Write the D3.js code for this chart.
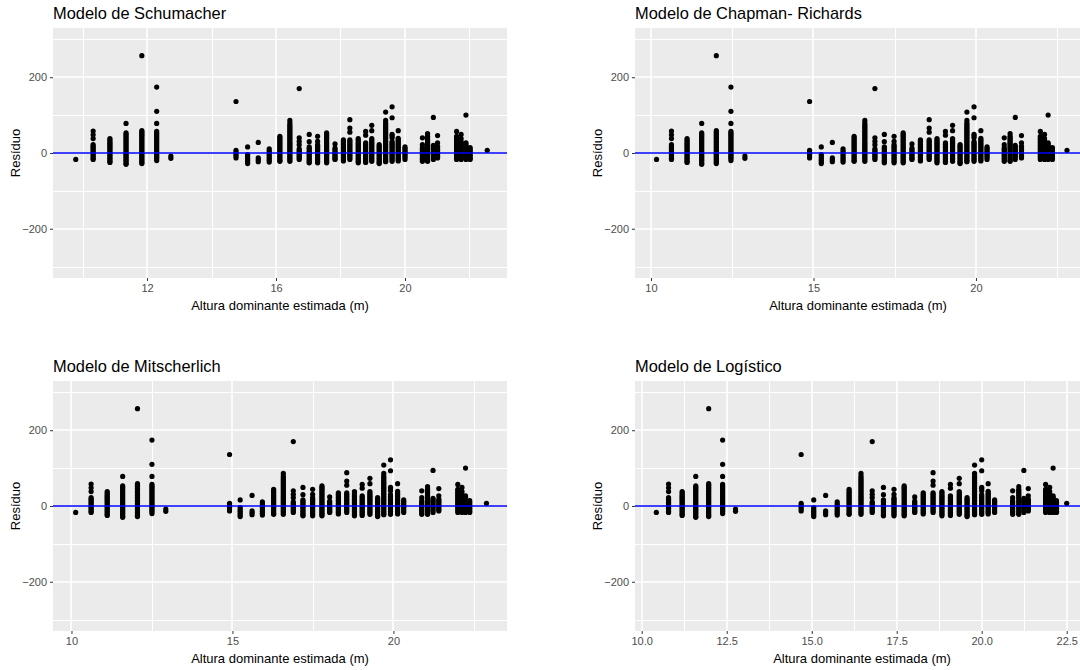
<!DOCTYPE html>
<html>
<head>
<meta charset="utf-8">
<script src="https://cdn.jsdelivr.net/npm/d3@7"></script>
<style>
  html, body { margin: 0; padding: 0; background: #fff; }
  svg { display: block; font-family: "Liberation Sans", Arial, sans-serif; }
</style>
</head>
<body>
<svg id="chart" width="1080" height="670"></svg>
<script>
// ---------- DATA ----------
const panelTitles = ["Modelo de Schumacher", "Modelo de Chapman- Richards", "Modelo de Mitscherlich", "Modelo de Logístico"];
const xTitle = "Altura dominante estimada (m)";
const yTitle = "Resíduo";

// residuals of each vertical group of observations (shared by the four models)
const residuals = [
  [-17],
  [58, 48, 38, 22, 18, 14, 10, 6, 2, -2, -6, -10, -14, -17],
  [38, 34, 30, 26, 22, 18, 14, 10, 6, 2, -2, -6, -10, -14, -18, -22, -25],
  [78, 53, 49, 45, 41, 37, 33, 29, 25, 21, 17, 13, 9, 5, 1, -3, -7, -11, -15, -19, -23, -27, -30],
  [257, 59, 55, 51, 47, 43, 39, 35, 31, 27, 23, 19, 15, 11, 7, 3, -1, -5, -9, -13, -17, -21, -25, -28],
  [174, 110, 78, 57, 53, 49, 45, 41, 37, 33, 29, 25, 21, 17, 13, 9, 5, 1, -3, -7, -11, -15, -20],
  [-8, -14],
  [136, 7, 2, -3, -8, -13],
  [16, -4, -9, -14, -19, -24, -28],
  [28, -13, -18, -23],
  [11, 6, 1, -4, -9, -14, -19, -24],
  [44, 40, 36, 32, 28, 24, 20, 16, 12, 8, 4, 0, -4, -8, -12, -16, -20, -22],
  [86, 79, 74, 70, 66, 62, 58, 54, 50, 46, 42, 38, 34, 30, 26, 22, 18, 14, 10, 6, 2, -2, -6, -10, -14, -18, -22],
  [170, 40, 31, 22, 11, 7, 3, -1, -5, -9, -13, -17],
  [49, 30, 16, 12, 8, 4, 0, -4, -8, -12, -16, -20, -24, -26],
  [44, 31, 22, 18, 14, 10, 6, 2, -2, -6, -10, -14, -18, -22, -26],
  [53, 49, 45, 41, 37, 33, 29, 25, 21, 17, 13, 9, 5, 1, -3, -7, -11, -15, -19, -23, -26],
  [24, 13, 9, 5, 1, -3, -7, -11, -15, -17],
  [35, 31, 27, 23, 19, 15, 11, 7, 3, -1, -5, -9, -13, -17, -21],
  [88, 66, 55, 35, 31, 27, 23, 19, 15, 11, 7, 3, -1, -5, -9, -13, -17],
  [38, 34, 30, 26, 22, 18, 14, 10, 6, 2, -2, -6, -10, -14, -18, -22, -26],
  [57, 47, 27, 23, 19, 15, 11, 7, 3, -1, -5, -9, -13, -17, -21, -25],
  [73, 59, 38, 34, 30, 26, 22, 18, 14, 10, 6, 2, -2, -6, -10, -14, -18, -22],
  [22, 18, 14, 10, 6, 2, -2, -6, -10, -14, -18, -22, -26, -28],
  [108, 86, 79, 75, 71, 67, 63, 59, 55, 51, 47, 43, 39, 35, 31, 27, 23, 19, 15, 11, 7, 3, -1, -5, -9, -13, -17, -21, -23],
  [122, 93, 49, 45, 40, 30, 26, 22, 18, 14, 10, 6, 2, -2, -6, -10, -14, -18, -22],
  [59, 39, 35, 31, 27, 23, 19, 15, 11, 7, 3, -1, -5, -9, -13, -17, -21],
  [16, 12, 8, 4, 0, -4, -8, -12, -17],
  [40, 22, 14, 10, 6, 2, -2, -6, -10, -14, -18, -22],
  [51, 44, 40, 36, 32, 28, 24, 20, 16, 12, 8, 4, 0, -4, -8, -12, -16, -20, -22],
  [94, 20, 16, 12, 8, 4, 0, -4, -8, -12, -17],
  [46, 27, 18, 14, 10, 6, 2, -2, -6, -10, -13],
  [57, 44, 40, 36, 32, 28, 24, 20, 16, 12, 8, 4, 0, -4, -8, -12, -17],
  [49, 38, 30, 26, 22, 18, 14, 10, 6, 2, -2, -6, -10, -14, -17],
  [100, 27, 23, 19, 15, 11, 7, 3, -1, -5, -9, -13, -17],
  [14, 10, 6, 2, -2, -6, -10, -14, -17],
  [7]
];

// estimated dominant height of each group, per model
const xSchumacher   = [9.79, 10.33, 10.85, 11.35, 11.84, 12.30, 12.74, 14.76, 15.12, 15.45, 15.79, 16.12, 16.43, 16.72, 17.03, 17.29, 17.57, 17.83, 18.09, 18.29, 18.55, 18.78, 18.97, 19.20, 19.40, 19.60, 19.79, 20.00, 20.54, 20.70, 20.88, 21.01, 21.60, 21.74, 21.89, 22.02, 22.55];
const xChapman      = [10.17, 10.63, 11.11, 11.56, 12.01, 12.46, 12.89, 14.88, 15.24, 15.58, 15.91, 16.25, 16.58, 16.89, 17.18, 17.48, 17.76, 18.03, 18.29, 18.56, 18.80, 19.06, 19.28, 19.51, 19.72, 19.94, 20.15, 20.34, 20.87, 21.05, 21.21, 21.40, 21.98, 22.11, 22.22, 22.35, 22.80];
const xMitscherlich = [10.13, 10.61, 11.11, 11.59, 12.05, 12.50, 12.93, 14.91, 15.24, 15.61, 15.93, 16.28, 16.58, 16.89, 17.19, 17.49, 17.78, 18.02, 18.29, 18.55, 18.79, 19.03, 19.27, 19.51, 19.70, 19.91, 20.13, 20.32, 20.88, 21.06, 21.23, 21.41, 22.00, 22.13, 22.24, 22.37, 22.89];
const xLogistico    = [10.43, 10.79, 11.19, 11.59, 11.97, 12.38, 12.76, 14.69, 15.06, 15.41, 15.75, 16.10, 16.45, 16.78, 17.11, 17.42, 17.72, 18.03, 18.28, 18.57, 18.83, 19.08, 19.34, 19.57, 19.79, 20.00, 20.19, 20.38, 20.91, 21.09, 21.24, 21.37, 21.88, 22.00, 22.10, 22.20, 22.50];

// axis breaks
const yMajor = [-200, 0, 200];
const yMinor = [-300, -100, 100, 300];
const xMajorSchumacher = [12, 16, 20];
const xMinorSchumacher = [10, 14, 18, 22];
const xMajorFive = [10, 15, 20, 25];
const xMinorFive = [12.5, 17.5, 22.5];
const xMajorLog = [10, 12.5, 15, 17.5, 20, 22.5];
const xMinorLog = [11.25, 13.75, 16.25, 18.75, 21.25, 23.75];
const yDomain = [-330, 330];

// ---------- LAYOUT ----------
const panels = [
  { title: panelTitles[0], xs: xSchumacher,   majors: xMajorSchumacher, minors: xMinorSchumacher, fmt: d3.format("d"),   l: 53,  r: 507,  t: 28,  b: 278, xdom: [9.085, 23.163], xt: 280 },
  { title: panelTitles[1], xs: xChapman,      majors: xMajorFive,       minors: xMinorFive,       fmt: d3.format("d"),   l: 635, r: 1095, t: 28,  b: 278, xdom: [9.508, 23.662], xt: 858 },
  { title: panelTitles[2], xs: xMitscherlich, majors: xMajorFive,       minors: xMinorFive,       fmt: d3.format("d"),   l: 53,  r: 507,  t: 381, b: 631, xdom: [9.426, 23.528], xt: 280 },
  { title: panelTitles[3], xs: xLogistico,    majors: xMajorLog,        minors: xMinorLog,        fmt: d3.format(".1f"), l: 635, r: 1095, t: 381, b: 631, xdom: [9.803, 23.332], xt: 862 }
];

const svg = d3.select("#chart");

panels.forEach((p, i) => {
  const g = svg.append("g");
  const x = d3.scaleLinear().domain(p.xdom).range([p.l, p.r]);
  const y = d3.scaleLinear().domain(yDomain).range([p.b, p.t]);
  const inX = v => v >= p.xdom[0] && v <= p.xdom[1] && x(v) <= 1080;

  const clipId = "clip" + i;
  svg.append("clipPath").attr("id", clipId)
    .append("rect").attr("x", p.l).attr("y", p.t).attr("width", p.r - p.l).attr("height", p.b - p.t);

  // background
  g.append("rect").attr("x", p.l).attr("y", p.t).attr("width", p.r - p.l).attr("height", p.b - p.t)
    .attr("fill", "#EBEBEB");

  const grid = g.append("g").attr("clip-path", `url(#${clipId})`);
  // minor grid
  grid.selectAll("line.ymin").data(yMinor).join("line").attr("class", "ymin")
    .attr("x1", p.l).attr("x2", p.r).attr("y1", d => Math.round(y(d)) + 0.5).attr("y2", d => Math.round(y(d)) + 0.5)
    .attr("stroke", "#FFFFFF").attr("stroke-width", 1);
  grid.selectAll("line.xmin").data(p.minors.filter(inX)).join("line").attr("class", "xmin")
    .attr("y1", p.t).attr("y2", p.b).attr("x1", d => Math.round(x(d)) + 0.5).attr("x2", d => Math.round(x(d)) + 0.5)
    .attr("stroke", "#FFFFFF").attr("stroke-width", 1);
  // major grid
  grid.selectAll("line.ymaj").data(yMajor).join("line").attr("class", "ymaj")
    .attr("x1", p.l).attr("x2", p.r).attr("y1", d => Math.round(y(d))).attr("y2", d => Math.round(y(d)))
    .attr("stroke", "#FFFFFF").attr("stroke-width", 1.6);
  grid.selectAll("line.xmaj").data(p.majors.filter(inX)).join("line").attr("class", "xmaj")
    .attr("y1", p.t).attr("y2", p.b).attr("x1", d => Math.round(x(d))).attr("x2", d => Math.round(x(d)))
    .attr("stroke", "#FFFFFF").attr("stroke-width", 1.6);

  // points
  const pts = [];
  residuals.forEach((col, j) => col.forEach(v => pts.push({ x: p.xs[j], y: v })));
  const pg = g.append("g").attr("clip-path", `url(#${clipId})`);
  pg.selectAll("circle").data(pts).join("circle")
    .attr("cx", d => x(d.x)).attr("cy", d => y(d.y)).attr("r", 2.6).attr("fill", "#000");

  // zero line
  pg.append("line").attr("x1", p.l).attr("x2", p.r).attr("y1", Math.round(y(0))).attr("y2", Math.round(y(0)))
    .attr("stroke", "#0000FF").attr("stroke-width", 1.5);

  // axes
  const ax = g.append("g").attr("transform", `translate(0,${p.b})`)
    .call(d3.axisBottom(x).tickValues(p.majors.filter(inX)).tickSize(3).tickPadding(3).tickFormat(p.fmt));
  const ay = g.append("g").attr("transform", `translate(${p.l},0)`)
    .call(d3.axisLeft(y).tickValues(yMajor).tickSize(3).tickPadding(3).tickFormat(d3.format("d")));
  [ax, ay].forEach(a => {
    a.select(".domain").remove();
    a.selectAll(".tick line").attr("stroke", "#333").attr("stroke-width", 1);
    a.selectAll(".tick text").attr("fill", "#4D4D4D").style("font-size", "11px")
      .style("font-family", "'Liberation Sans', Arial, sans-serif");
  });

  // titles
  g.append("text").attr("x", p.l).attr("y", p.t - 9)
    .attr("fill", "#000").style("font-size", "16.4px").text(p.title);
  g.append("text").attr("x", p.xt)
    .attr("y", p.b + 31.5).attr("text-anchor", "middle")
    .attr("fill", "#000").style("font-size", "13px").text(xTitle);
  g.append("text")
    .attr("transform", `translate(${p.l - 33},${(p.t + p.b) / 2}) rotate(-90)`)
    .attr("text-anchor", "middle").attr("fill", "#000").style("font-size", "13px").text(yTitle);
});
</script>
</body>
</html>
